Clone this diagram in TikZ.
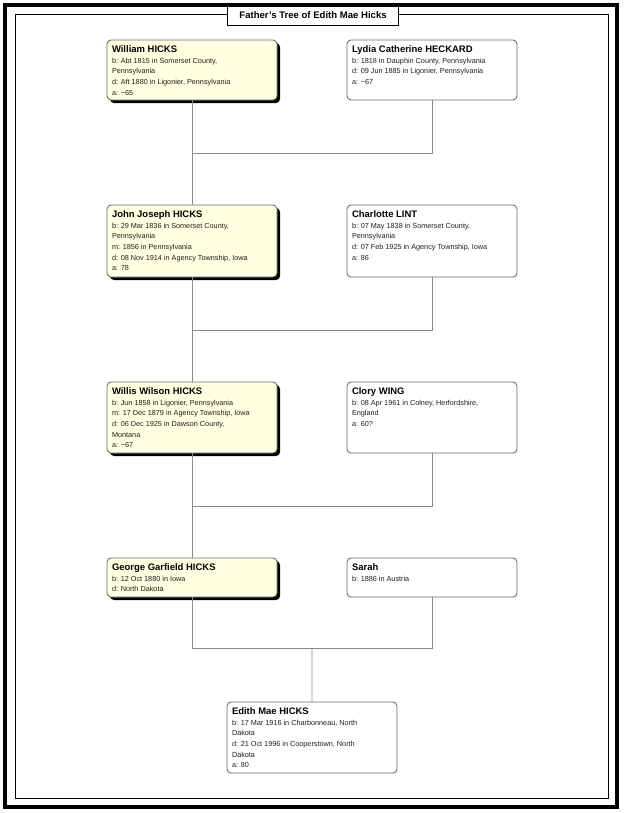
\documentclass[tikz,border=0pt]{standalone}
\usepackage{fontspec}
\setmainfont{Liberation Sans}
\usetikzlibrary{shadows}
\definecolor{cream}{HTML}{FFFFE1}
\definecolor{boxgray}{HTML}{6E6E6E}
\definecolor{linegray}{HTML}{8A8A8A}
\definecolor{txt}{HTML}{1E1E1E}
\tikzset{
  pbox/.style={draw=boxgray, line width=0.9bp, rounded corners=4bp, anchor=north west,
    minimum width=170bp, inner sep=0pt, outer sep=0pt},
  ybox/.style={pbox, fill=cream, drop shadow={shadow xshift=3bp, shadow yshift=-3bp, fill=black, opacity=1}},
  wbox/.style={pbox, fill=white},
  ptext/.style={anchor=north west, inner sep=0pt, outer sep=0pt, align=left, text=txt,
    font=\fontsize{7.3}{10.6}\selectfont, xshift=5bp, yshift=-6bp},
  conn/.style={draw=linegray, line width=0.9bp},
}
\newcommand\pnm[1]{{\fontsize{9.5}{10.6}\selectfont\bfseries\color{black}#1}}
\begin{document}
\begin{tikzpicture}[x=1bp, y=-1bp]
\useasboundingbox (0,0) rectangle (624,813);
\fill[white] (0,0) rectangle (624,813);
% frames
\draw[line width=1bp] (15,15) rectangle (608,798);
\node[draw, fill=white, line width=1.1bp, anchor=north west, minimum width=171bp, minimum height=20bp,
  inner sep=0pt, font=\fontsize{9.6}{11}\selectfont\bfseries] (title) at (227,5) {Father's Tree of Edith Mae Hicks};
\draw[line width=3.5bp] (5,5) rectangle (617,807);
% junctions
\coordinate (j1) at (192,153);
\coordinate (j2) at (192,330);
\coordinate (j3) at (192,506);
\coordinate (j4) at (312,648);
% boxes
\node[ybox, minimum height=60bp] (william) at (107,40) {};
\node[wbox, minimum height=60bp] (lydia) at (347,40) {};
\node[ybox, minimum height=72bp] (john) at (107,205) {};
\node[wbox, minimum height=72bp] (charlotte) at (347,205) {};
\node[ybox, minimum height=71bp] (willis) at (107,382) {};
\node[wbox, minimum height=71bp] (clory) at (347,382) {};
\node[ybox, minimum height=39bp] (george) at (107,558) {};
\node[wbox, minimum height=39bp] (sarah) at (347,558) {};
\node[wbox, minimum height=71bp] (edith) at (227,702) {};
% connectors
\draw[conn] (william.south) -- (john.north);
\draw[conn] (lydia.south) |- (j1);
\draw[conn] (john.south) -- (willis.north);
\draw[conn] (charlotte.south) |- (j2);
\draw[conn] (willis.south) -- (george.north);
\draw[conn] (clory.south) |- (j3);
\draw[conn] (george.south) |- (j4);
\draw[conn] (sarah.south) |- (j4);
\draw[conn] (j4) -- (edith.north);
% texts
\node[ptext] (williamt) at (william.north west) {\pnm{William HICKS}\\
b: Abt 1815 in Somerset County,\\ Pennsylvania\\ d: Aft 1880 in Ligonier, Pennsylvania\\ a: \textasciitilde65};
\node[ptext] (lydiat) at (lydia.north west) {\pnm{Lydia Catherine HECKARD}\\
b: 1818 in Dauphin County, Pennsylvania\\ d: 09 Jun 1885 in Ligonier, Pennsylvania\\ a: \textasciitilde67};
\node[ptext] (johnt) at (john.north west) {\pnm{John Joseph HICKS}\\
b: 29 Mar 1836 in Somerset County,\\ Pennsylvania\\ m: 1856 in Pennsylvania\\ d: 08 Nov 1914 in Agency Township, Iowa\\ a: 78};
\node[ptext] (charlottet) at (charlotte.north west) {\pnm{Charlotte LINT}\\
b: 07 May 1838 in Somerset County,\\ Pennsylvania\\ d: 07 Feb 1925 in Agency Township, Iowa\\ a: 86};
\node[ptext] (willist) at (willis.north west) {\pnm{Willis Wilson HICKS}\\
b: Jun 1858 in Ligonier, Pennsylvania\\ m: 17 Dec 1879 in Agency Township, Iowa\\ d: 06 Dec 1925 in Dawson County,\\ Montana\\ a: \textasciitilde67};
\node[ptext] (cloryt) at (clory.north west) {\pnm{Clory WING}\\
b: 08 Apr 1961 in Colney, Herfordshire,\\ England\\ a: 60?};
\node[ptext] (georget) at (george.north west) {\pnm{George Garfield HICKS}\\
b: 12 Oct 1880 in Iowa\\ d: North Dakota};
\node[ptext] (saraht) at (sarah.north west) {\pnm{Sarah}\\
b: 1886 in Austria};
\node[ptext] (editht) at (edith.north west) {\pnm{Edith Mae HICKS}\\
b: 17 Mar 1916 in Charbonneau, North\\ Dakota\\ d: 21 Oct 1996 in Cooperstown, North\\ Dakota\\ a: 80};
\end{tikzpicture}
\end{document}
